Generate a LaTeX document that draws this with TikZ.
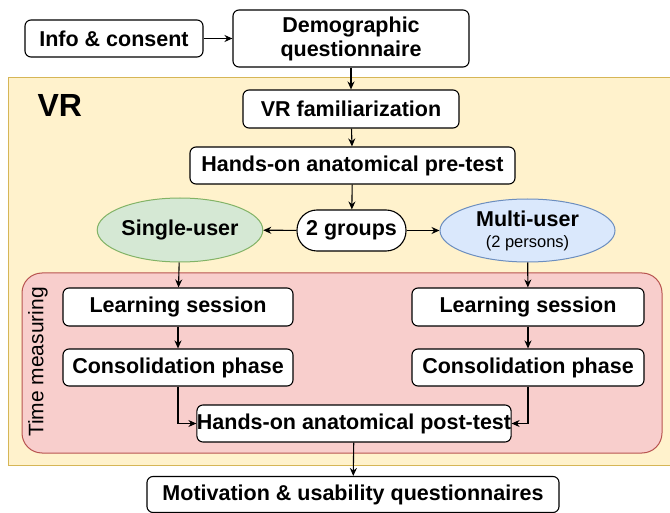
\documentclass[tikz,border=0pt]{standalone}
\usepackage{fontspec}
\setmainfont{Liberation Sans}
\usetikzlibrary{arrows.meta,shapes.geometric}
\definecolor{vrfill}{HTML}{FFF2CC}
\definecolor{vrline}{HTML}{D6B656}
\definecolor{tmfill}{HTML}{F8CECC}
\definecolor{tmline}{HTML}{B85450}
\definecolor{sgfill}{HTML}{D5E8D4}
\definecolor{sgline}{HTML}{82B366}
\definecolor{mufill}{HTML}{DAE8FC}
\definecolor{muline}{HTML}{6C8EBF}
\tikzset{
  box/.style={draw=black, fill=white, rounded corners=6pt, line width=1.1pt, inner sep=0pt,
    font=\fontsize{21.5}{24}\selectfont\bfseries, align=center},
  arr/.style={-{Stealth[length=8pt,width=7pt]}, line width=1.1pt},
}
\begin{document}
\begin{tikzpicture}[x=1pt,y=-1pt]
\useasboundingbox (0,0) rectangle (670,513);
% VR area
\node[draw=vrline, fill=vrfill, line width=1pt, minimum width=662pt, minimum height=387pt, inner sep=0pt] (vr) at (339,271.5) {};
\node[font=\fontsize{32}{36}\selectfont\bfseries, anchor=west] (vrlab) at (34,105) {VR};
% time measuring area
\node[draw=tmline, fill=tmfill, line width=1pt, rounded corners=20pt, minimum width=640pt, minimum height=180pt, inner sep=0pt] (tm) at (342,363) {};
\node[rotate=90, font=\fontsize{21}{24}\selectfont] (tmlab) at (38,362) {Time measuring};
% nodes
\node[box, minimum width=178pt, minimum height=37pt] (info) at (114,38.5) {Info \& consent};
\node[box, minimum width=236pt, minimum height=57pt] (demo) at (351,38.5) {Demographic\\questionnaire};
\node[box, minimum width=216pt, minimum height=38pt] (fam) at (351,109) {VR familiarization};
\node[box, minimum width=325pt, minimum height=37pt] (pre) at (352.5,165.5) {Hands-on anatomical pre-test};
\node[box, rounded corners=20pt, minimum width=109pt, minimum height=41pt] (grp) at (351.5,230.5) {2 groups};
\node[draw=sgline, fill=sgfill, line width=1pt, ellipse, minimum width=158pt, minimum height=64pt, inner sep=0pt,
  font=\fontsize{21.5}{24}\selectfont\bfseries] (single) at (180,230) {Single-user};
\node[draw=muline, fill=mufill, line width=1pt, ellipse, minimum width=175pt, minimum height=63pt, inner sep=0pt,
  align=center, font=\fontsize{21.5}{22}\selectfont\bfseries] (multi) at (527.5,230.5) {Multi-user\\[-1pt]{\fontsize{16.5}{18}\selectfont\mdseries (2 persons)}};
\node[box, minimum width=230pt, minimum height=38pt] (ls1) at (178,307) {Learning session};
\node[box, minimum width=230pt, minimum height=37pt] (cp1) at (178,367.5) {Consolidation phase};
\node[box, minimum width=232pt, minimum height=38pt] (ls2) at (528,307) {Learning session};
\node[box, minimum width=232pt, minimum height=37pt] (cp2) at (528,367.5) {Consolidation phase};
\node[box, minimum width=314pt, minimum height=37pt] (post) at (354,423.5) {Hands-on anatomical post-test};
\node[box, minimum width=412pt, minimum height=36pt] (mot) at (353,494.5) {Motivation \& usability questionnaires};
% connectors
\draw[arr] (info) -- (demo);
\draw[arr] (demo) -- (fam);
\draw[arr] (fam) -- (pre);
\draw[arr] (pre) -- (grp);
\draw[arr] (grp) -- (single);
\draw[arr] (grp) -- (multi);
\draw[arr] (single) -- (ls1);
\draw[arr] (multi) -- (ls2);
\draw[arr] (ls1) -- (cp1);
\draw[arr] (ls2) -- (cp2);
\draw[arr] (cp1.south) |- (post.west);
\draw[arr] (cp2.south) |- (post.east);
\draw[arr] (post) -- (mot);
\end{tikzpicture}
\end{document}
